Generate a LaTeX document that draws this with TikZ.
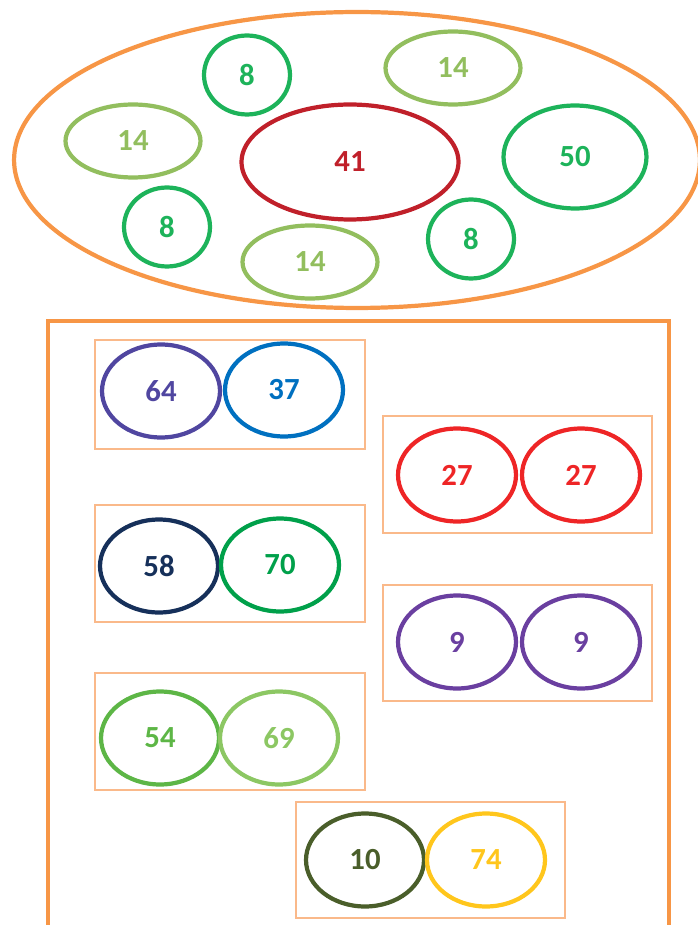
\documentclass[tikz,border=0pt]{standalone}
\usepackage{fontspec}
\setmainfont{Carlito}
\usetikzlibrary{shapes.geometric}
\definecolor{frameorange}{HTML}{F79646}
\definecolor{boxorange}{HTML}{FAB98A}
\definecolor{vgreen}{HTML}{1DB35A}
\definecolor{lgreen}{HTML}{92BE5E}
\definecolor{darkred}{HTML}{C0202A}
\definecolor{indigo}{HTML}{5046A0}
\definecolor{cblue}{HTML}{0070C0}
\definecolor{cred}{HTML}{EE2526}
\definecolor{navy}{HTML}{16305A}
\definecolor{mgreen}{HTML}{00A04A}
\definecolor{cpurple}{HTML}{6A3FA0}
\definecolor{grassgreen}{HTML}{5DB646}
\definecolor{palegreen}{HTML}{8CC763}
\definecolor{olive}{HTML}{4A5E2A}
\definecolor{cyellow}{HTML}{FFC61C}

\begin{document}
\begin{tikzpicture}[x=0.02cm,y=-0.02cm]
\tikzset{
  ring/.style={ellipse,draw=#1,text=#1,line width=2.4pt,inner sep=0pt,
    font=\fontsize{17.5}{19}\selectfont\bfseries},
  smallring/.style={ring=#1,minimum width=1.72cm,minimum height=1.58cm},
  flatring/.style={ring=#1,minimum width=2.7cm,minimum height=1.46cm},
  pairring/.style={ring=#1,minimum width=2.36cm,minimum height=1.86cm},
  pairbox/.style={draw=boxorange,line width=0.6pt},
  frame/.style={draw=frameorange,line width=2.4pt}
}
\useasboundingbox (0,0) rectangle (697,925);

% top group
\node[frame,ellipse,minimum width=13.72cm,minimum height=5.92cm,inner sep=0pt] (n_all) at (357,160) {};
\node[smallring=vgreen] (n_e8a) at (247,75) {8};
\node[flatring=lgreen] (n_e14a) at (453,68) {14};
\node[flatring=lgreen] (n_e14b) at (133,141) {14};
\node[ring=darkred,minimum width=4.34cm,minimum height=2.3cm] (n_e41) at (350,162) {41};
\node[ring=vgreen,minimum width=2.86cm,minimum height=2.06cm] (n_e50) at (575,157) {50};
\node[smallring=vgreen] (n_e8b) at (167,227) {8};
\node[flatring=lgreen] (n_e14c) at (310,262) {14};
\node[smallring=vgreen] (n_e8c) at (471,239) {8};

% bottom group
\draw[frame] (48,935) -- (48,321) -- (669,321) -- (669,935);

\draw[pairbox] (95,340) rectangle (365,449);
\node[pairring=indigo] (n_p64) at (161,391) {64};
\node[pairring=cblue] (n_p37) at (284,390) {37};

\draw[pairbox] (383,416) rectangle (652,533);
\node[pairring=cred] (n_p27a) at (457,475) {27};
\node[pairring=cred] (n_p27b) at (581,475) {27};

\draw[pairbox] (95,505) rectangle (365,622);
\node[pairring=navy] (n_p58) at (159,566) {58};
\node[pairring=mgreen] (n_p70) at (280,565) {70};

\draw[pairbox] (383,585) rectangle (652,701);
\node[pairring=cpurple] (n_p9a) at (457,642) {9};
\node[pairring=cpurple] (n_p9b) at (581,642) {9};

\draw[pairbox] (95,673) rectangle (365,790);
\node[pairring=grassgreen] (n_p54) at (160,738) {54};
\node[pairring=palegreen] (n_p69) at (279,738) {69};

\draw[pairbox] (296,802) rectangle (565,918);
\node[pairring=olive] (n_p10) at (365,860) {10};
\node[pairring=cyellow] (n_p74) at (486,860) {74};
\end{tikzpicture}
\end{document}
